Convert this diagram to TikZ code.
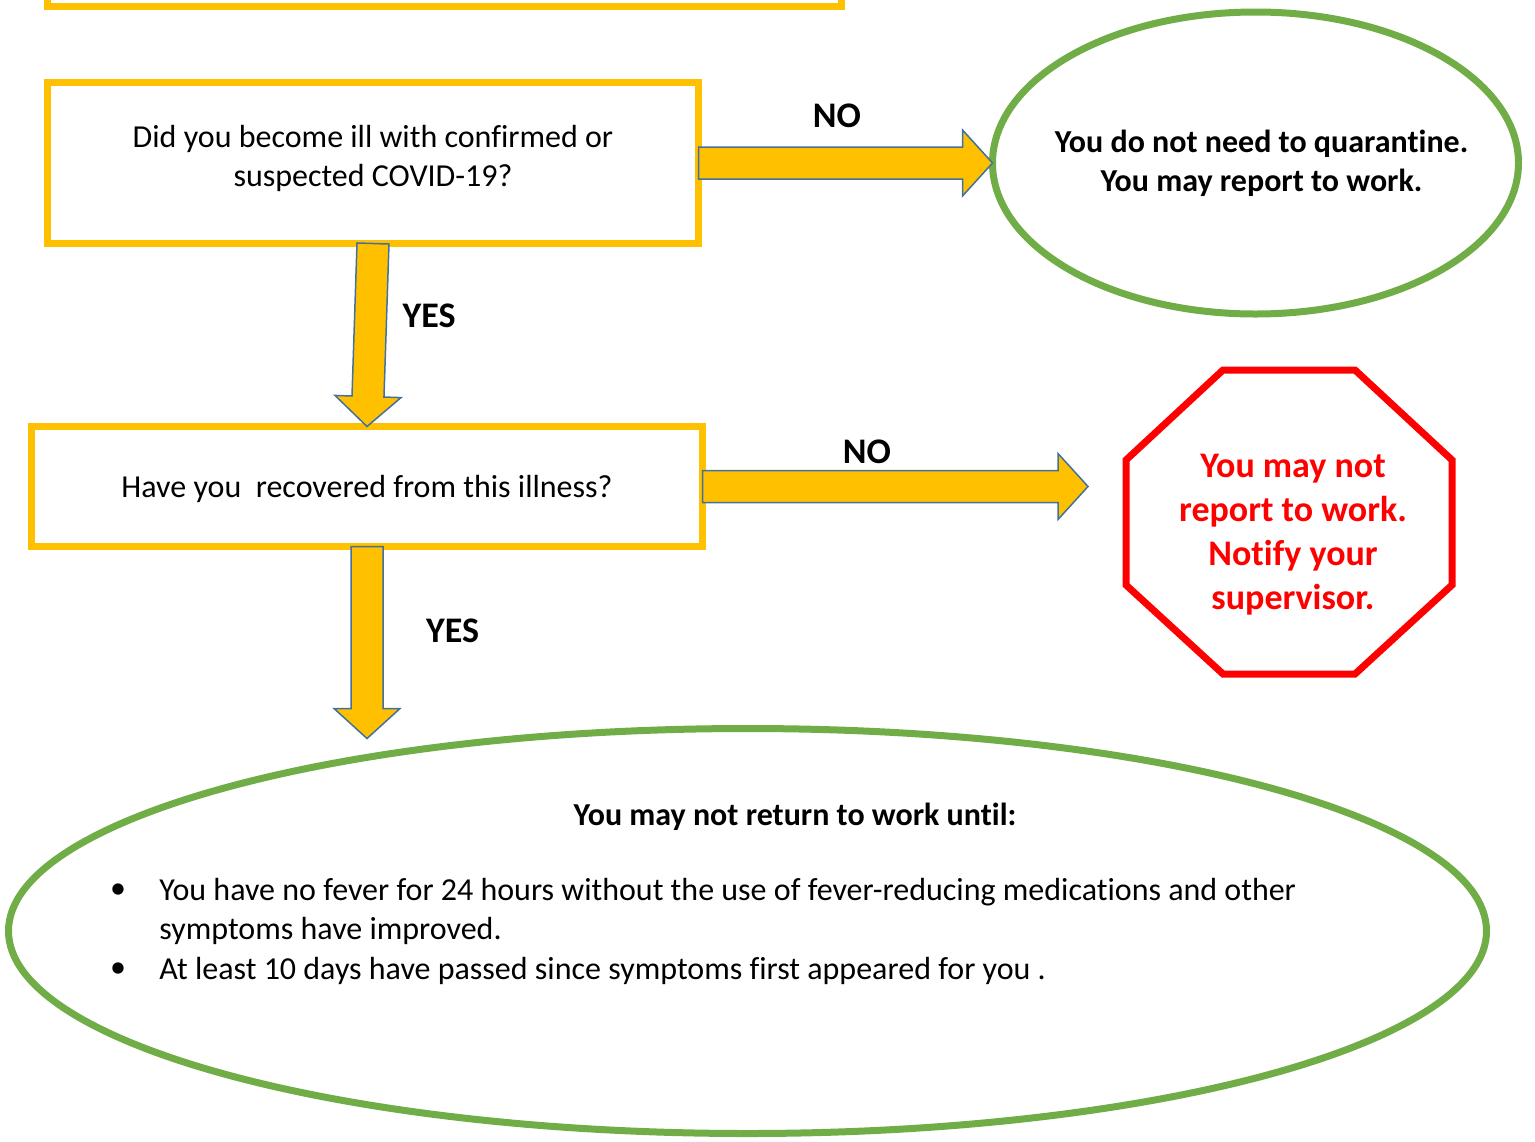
\documentclass[tikz,border=0pt]{standalone}
\usepackage{fontspec}
\setmainfont{Carlito}[Ligatures=NoCommon]
\usepackage{tikz}
\usetikzlibrary{calc, positioning, shapes.geometric}
\definecolor{flowyellow}{HTML}{FFC000}
\definecolor{flowgreen}{HTML}{70AD47}
\definecolor{flowblue}{HTML}{41719C}
\definecolor{flowred}{HTML}{FF0000}
\newcommand{\blockarrow}[2]{%
	\coordinate (headbase) at ($(#2)!15pt!(#1)$);
	\draw[blockarrow] ($(#1)!8pt!90:(#2)$) -- ($(headbase)!8pt!90:(#2)$) -- ($(headbase)!16.5pt!90:(#2)$) -- (#2)
		-- ($(headbase)!16.5pt!-90:(#2)$) -- ($(headbase)!8pt!-90:(#2)$) -- ($(#1)!8pt!-90:(#2)$) -- cycle;
}

\begin{document}
\begin{tikzpicture}[
x=0.5pt, y=-0.5pt,
texts/.style = {text=black, inner sep=0pt, font=\fontsize{16}{19.5}\selectfont},
boldtexts/.style = {texts, font=\fontsize{16}{19.5}\selectfont\bfseries},
arrowlabel/.style = {text=black, inner sep=0pt, font=\fontsize{18}{22}\selectfont\bfseries},
qbox/.style = {texts, rectangle, align=center, outer sep=0pt, fill=white, draw=flowyellow, line width=3.5pt},
oval/.style = {ellipse, inner sep=0pt, outer sep=0pt, fill=white, draw=flowgreen, line width=3.5pt},
stopnode/.style = {rectangle, inner sep=0pt, outer sep=0pt, minimum width=163pt, minimum height=152pt},
stopline/.style = {draw=flowred, line width=3.5pt},
stoptexts/.style = {text=flowred, align=center, font=\fontsize{18}{22}\selectfont\bfseries},
blockarrow/.style = {draw=flowblue, line width=0.75pt, fill=flowyellow}
]
\useasboundingbox (0,0) rectangle (1535,1141);

\node[qbox, minimum width=397pt, minimum height=60pt] (prev) at (444.5,-53.5) {};
\node[qbox, minimum width=325.5pt, minimum height=80.5pt,
	label={[texts, align=center, yshift=2.5pt]center:Did you become ill with confirmed or\\suspected COVID-19?}] (q1) at (373,163) {};
\node[oval, minimum width=263pt, minimum height=151pt,
	label={[boldtexts, align=center, xshift=3pt]center:You do not need to quarantine.\\You may report to work.}] (quar) at (1255.5,163) {};
\node[qbox, minimum width=335.5pt, minimum height=60pt,
	label={[texts, yshift=-1pt]center:Have you~ recovered from this illness?}] (q2) at (367,486.5) {};
\node[stopnode, label={[stoptexts, xshift=2pt, yshift=-6.5pt]center:You may not\\report to work.\\Notify your\\supervisor.}] (stop) at (1289,522) {};
\draw[stopline] ($(stop.north west)+(97,0)$) -- ($(stop.north east)+(-97,0)$) -- ($(stop.north east)+(0,90)$)
	-- ($(stop.south east)+(0,-89)$) -- ($(stop.south east)+(-97,0)$) -- ($(stop.south west)+(97,0)$)
	-- ($(stop.south west)+(0,-89)$) -- ($(stop.north west)+(0,90)$) -- cycle;
\node[oval, minimum width=739pt, minimum height=202.5pt] (until) at (747.5,931) {};
\node[boldtexts, anchor=base] (untilhead) at (795,825) {You may not return to work until:};
\node[texts] (dot1) at (118,891) {\textbullet};
\node[texts, anchor=base west] (fever) at (159,900) {You have no fever for 24 hours without the use of fever-reducing medications and other};
\node[texts, anchor=base west] (fever2) at (159,939.5) {symptoms have improved.};
\node[texts] (dot2) at (118,970) {\textbullet};
\node[texts, anchor=base west] (tendays) at (159,979) {At least 10 days have passed since symptoms first appeared for you .};

\blockarrow{q1.east}{quar.west}
\blockarrow{q1.south}{q2.north}
\coordinate (n2tip) at ($(q2.east)+(385.5,0)$);
\blockarrow{q2.east}{n2tip}
\coordinate (y2tip) at ($(q2.south)+(0,192)$);
\blockarrow{q2.south}{y2tip}

\node[arrowlabel] (no1) at (837,116) {NO};
\node[arrowlabel] (yes1) at (429,315.5) {YES};
\node[arrowlabel] (no2) at (867,452) {NO};
\node[arrowlabel] (yes2) at (452.5,631) {YES};
\end{tikzpicture}
\end{document}
